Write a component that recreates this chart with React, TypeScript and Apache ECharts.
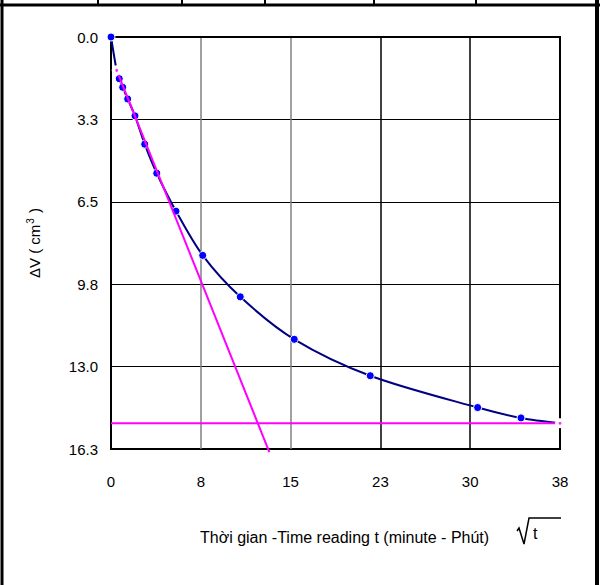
import React, { useEffect, useRef } from "react";
import * as echarts from "echarts";

// sqrt(t) readings (x) and ΔV (y) of the measured curve
const sqrtT = [0, 0.48, 0.7, 0.99, 1.41, 2.03, 2.85, 3.87, 5.5, 7.76, 10.94, 15.51, 21.94, 31.03, 34.7, 38.0];
const deltaV = [0, 1.32, 1.65, 1.99, 2.45, 3.12, 4.24, 5.39, 6.89, 8.64, 10.28, 11.96, 13.4, 14.66, 15.07, 15.28];

// tangent line (initial slope)
const tangentX = [0.48, 13.4];
const tangentY = [1.32, 16.42];

// final (100%) consolidation horizontal line
const finalX = [0, 38];
const finalY = [15.28, 15.28];

const xMax = 38;
const xInterval = 7.6;
const yMax = 16.3;
const yInterval = 3.26;

const xTitle = "Thời gian -Time reading t (minute - Phút)";

const FONT = "'Liberation Sans', Arial, sans-serif";

export default function App() {
  const ref = useRef<HTMLDivElement>(null);
  useEffect(() => {
    document.body.style.margin = "0";
    const chart = echarts.init(ref.current!, undefined, { renderer: "svg" });
    const curve = sqrtT.map((x, i) => [x, deltaV[i]]);
    const tangent = tangentX.map((x, i) =>
      i === 0 ? { value: [x, tangentY[i]] } : { value: [x, tangentY[i]], symbol: "none" }
    );
    const finalLine = finalX.map((x, i) =>
      i === 0 ? { value: [x, finalY[i]], symbol: "none" } : { value: [x, finalY[i]] }
    );
    const markerDots = [
      [tangentX[0], tangentY[0]],
      [finalX[1], finalY[1]],
    ];
    chart.setOption({
      animation: false,
      backgroundColor: "#fff",
      grid: {
        left: 111,
        right: 50,
        top: 37,
        bottom: 136,
        show: true,
        borderColor: "#000",
        borderWidth: 2,
        backgroundColor: "transparent",
      },
      xAxis: {
        type: "value",
        min: 0,
        max: xMax,
        interval: xInterval,
        axisLine: { show: true, lineStyle: { color: "#000", width: 2 } },
        axisTick: { show: false },
        axisLabel: {
          margin: 25,
          color: "#000",
          fontFamily: FONT,
          fontSize: 15,
          formatter: (v: number) => v.toFixed(0),
        },
        splitLine: {
          show: true,
          showMinLine: false,
          showMaxLine: false,
          lineStyle: { color: ["#808080", "#808080", "#000", "#000"], width: 1.5 },
        },
      },
      yAxis: {
        type: "value",
        inverse: true,
        min: 0,
        max: yMax,
        interval: yInterval,
        axisLine: { show: true, lineStyle: { color: "#000", width: 2 } },
        axisTick: { show: false },
        axisLabel: {
          margin: 13,
          color: "#000",
          fontFamily: FONT,
          fontSize: 15,
          formatter: (v: number) => v.toFixed(1),
        },
        splitLine: { show: true, lineStyle: { color: "#000", width: 1 } },
      },
      series: [
        {
          type: "line",
          data: curve,
          smooth: 0.3,
          symbol: "circle",
          symbolSize: 8,
          lineStyle: { color: "#000080", width: 2 },
          itemStyle: { color: "#0000ff", borderColor: "#fff", borderWidth: 1 },
          z: 3,
        },
        {
          type: "line",
          data: tangent,
          clip: false,
          symbol: "emptyCircle",
          symbolSize: 8,
          lineStyle: { color: "#ff00ff", width: 2 },
          itemStyle: { color: "#fff", borderColor: "#7070ff", borderWidth: 1 },
          z: 4,
        },
        {
          type: "line",
          data: finalLine,
          symbol: "emptyCircle",
          symbolSize: 8,
          lineStyle: { color: "#ff00ff", width: 2 },
          itemStyle: { color: "#fff", borderColor: "#7070ff", borderWidth: 1 },
          z: 4,
        },
        {
          type: "scatter",
          data: markerDots,
          symbol: "circle",
          symbolSize: 3,
          itemStyle: { color: "#ff00ff" },
          z: 5,
        },
      ],
      graphic: [
        // outer frame
        { type: "line", shape: { x1: 2, y1: 0, x2: 2, y2: 585 }, style: { stroke: "#000", lineWidth: 3 } },
        { type: "line", shape: { x1: 597, y1: 0, x2: 597, y2: 585 }, style: { stroke: "#000", lineWidth: 4 } },
        { type: "line", shape: { x1: 0, y1: 5, x2: 600, y2: 5 }, style: { stroke: "#000", lineWidth: 3 } },
        { type: "line", shape: { x1: 98, y1: 0, x2: 98, y2: 5 }, style: { stroke: "#000", lineWidth: 2 } },
        { type: "line", shape: { x1: 182, y1: 0, x2: 182, y2: 5 }, style: { stroke: "#000", lineWidth: 2 } },
        { type: "line", shape: { x1: 265, y1: 0, x2: 265, y2: 5 }, style: { stroke: "#000", lineWidth: 2 } },
        { type: "line", shape: { x1: 374, y1: 0, x2: 374, y2: 5 }, style: { stroke: "#000", lineWidth: 2 } },
        { type: "line", shape: { x1: 476, y1: 0, x2: 476, y2: 5 }, style: { stroke: "#000", lineWidth: 2 } },
        // axis titles
        {
          type: "text",
          x: 200,
          y: 537,
          style: { text: xTitle, fill: "#000", font: `16px ${FONT}`, verticalAlign: "middle" },
        },
        {
          type: "text",
          x: 34,
          y: 243,
          rotation: Math.PI / 2,
          style: {
            text: "ΔV ( cm{sup|3} )",
            fill: "#000",
            font: `15px ${FONT}`,
            align: "center",
            verticalAlign: "middle",
            rich: {
              sup: { fontSize: 10, verticalAlign: "top", padding: [0, 1, 8, 1], fontFamily: FONT },
            },
          },
        },
        // sqrt(t) symbol
        {
          type: "polyline",
          shape: { points: [[517, 531], [519, 528], [524, 544], [529, 518], [561, 518]] },
          style: { stroke: "#000", lineWidth: 1.5, fill: "none" },
        },
        {
          type: "text",
          x: 533,
          y: 533,
          style: { text: "t", fill: "#000", font: `16px ${FONT}`, verticalAlign: "middle" },
        },
      ],
    });
    return () => chart.dispose();
  }, []);
  return <div ref={ref} style={{ width: 610, height: 585, position: "absolute", left: 0, top: 0 }} />;
}
